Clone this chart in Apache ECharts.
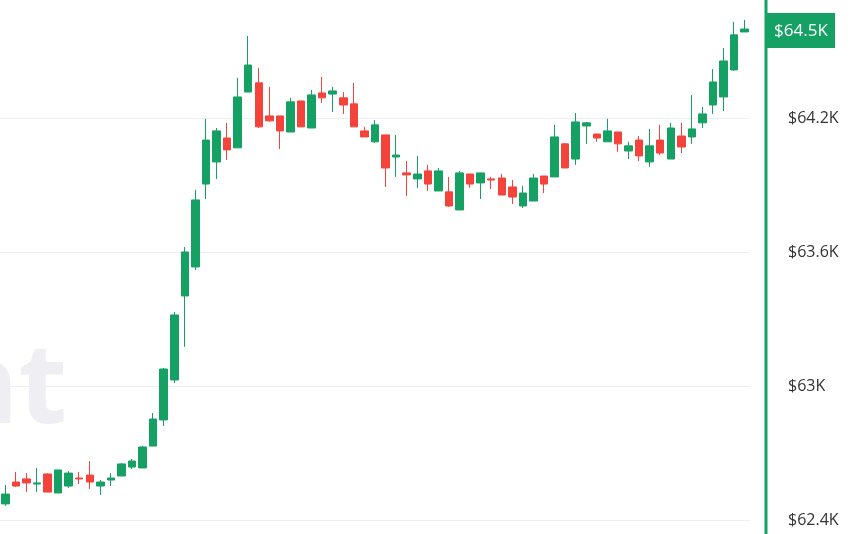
<!DOCTYPE html>
<html><head><meta charset="utf-8">
<script src="https://cdn.jsdelivr.net/npm/echarts@6/dist/echarts.min.js"></script>
<style>html,body{margin:0;padding:0;background:#fff}#c{width:856px;height:534px}</style>
</head><body><div id="c"></div>
<script>
// [open, close, low, high]
const openP = [62472,62570,62584,62561,62606,62521,62552,62588,62601,62552,62579,62597,62637,62633,62731,62848,63027,63403,63533,63904,64003,64110,64066,64316,64357,64209,64209,64137,64276,64155,64312,64307,64290,64263,64142,64093,64124,64025,63954,63927,63963,63873,63869,63788,63949,63909,63927,63931,63891,63806,63828,63940,63936,64084,64016,64164,64128,64093,64137,64052,64101,64003,64101,64016,64119,64115,64178,64258,64294,64415,64585];
const closeP = [62516,62552,62566,62566,62525,62624,62610,62584,62570,62570,62588,62651,62664,62727,62852,63076,63318,63600,63833,64101,64142,64057,64294,64437,64160,64187,64142,64272,64160,64303,64290,64321,64258,64160,64115,64169,63976,64034,63945,63949,63904,63963,63806,63954,63904,63954,63922,63855,63846,63864,63931,63904,64115,63976,64182,64178,64110,64142,64084,64075,64030,64075,64043,64155,64070,64151,64218,64361,64455,64572,64598];
const lowP = [62463,62548,62525,62525,62525,62521,62543,62561,62539,62512,62552,62597,62628,62633,62731,62821,63013,63175,63519,63837,63927,64012,64066,64316,64155,64183,64061,64137,64160,64155,64267,64227,64218,64160,64115,64088,63891,63936,63851,63887,63873,63873,63801,63788,63887,63837,63882,63855,63815,63797,63828,63864,63936,63976,63990,64084,64093,64093,64048,64016,64007,63981,64034,64016,64043,64084,64155,64218,64231,64411,64585];
const highP = [62557,62615,62610,62633,62610,62624,62619,62615,62664,62579,62610,62655,62673,62731,62879,63081,63331,63622,63878,64196,64155,64178,64379,64567,64424,64339,64209,64290,64276,64325,64384,64339,64316,64357,64160,64191,64124,64124,64007,64030,63990,63976,63936,63963,63949,63954,63936,63949,63922,63896,63949,63940,64169,64088,64222,64182,64128,64196,64137,64093,64119,64151,64169,64178,64178,64303,64249,64419,64513,64630,64639];
const categories = openP.map((_, i) => 'T' + (i + 1));
const yTicks = [62400, 63000, 63600, 64200];
const lastLabel = '$64.5K';

const green = '#15a064', red = '#f4433a';
const chart = echarts.init(document.getElementById('c'));
chart.setOption({
  animation: false,
  grid: { left: 0, right: 106, top: 0, bottom: 14 },
  xAxis: { type: 'category', data: categories, boundaryGap: true,
    axisLine: { show: false }, axisTick: { show: false }, axisLabel: { show: false }, splitLine: { show: false } },
  yAxis: { type: 'value', position: 'right', min: 62400, max: 64728, interval: 600,
    axisLine: { show: false }, axisTick: { show: false },
    splitLine: { showMaxLine: false, lineStyle: { color: '#eeeef0', width: 1 } },
    axisLabel: { margin: 38, showMaxLabel: false, color: '#333', fontSize: 16, fontFamily: 'Open Sans, sans-serif',
      formatter: v => yTicks.includes(v) ? '$' + (v / 1000).toFixed(1).replace(/\.0$/, '') + 'K' : '' } },
  graphic: [
    { type: 'text', left: -55, top: 335, z: -10, style: { text: 'nt', fill: '#efeff3', font: 'bold 112px "Open Sans", sans-serif' } },
    { type: 'line', shape: { x1: 766, y1: 0, x2: 766, y2: 534 }, style: { stroke: green, lineWidth: 3 } },
    { type: 'rect', shape: { x: 767, y: 13, width: 68, height: 35 }, style: { fill: green } },
    { type: 'text', x: 801, y: 31, style: { text: lastLabel, fill: '#fff', font: '17px "Open Sans", sans-serif', align: 'center', verticalAlign: 'middle' } }
  ],
  series: [{
    type: 'candlestick', barWidth: 8,
    data: openP.map((o, i) => [o, closeP[i], lowP[i], highP[i]]),
    itemStyle: { color: green, color0: red, borderColor: green, borderColor0: red, borderWidth: 1 }
  }]
});
</script></body></html>
